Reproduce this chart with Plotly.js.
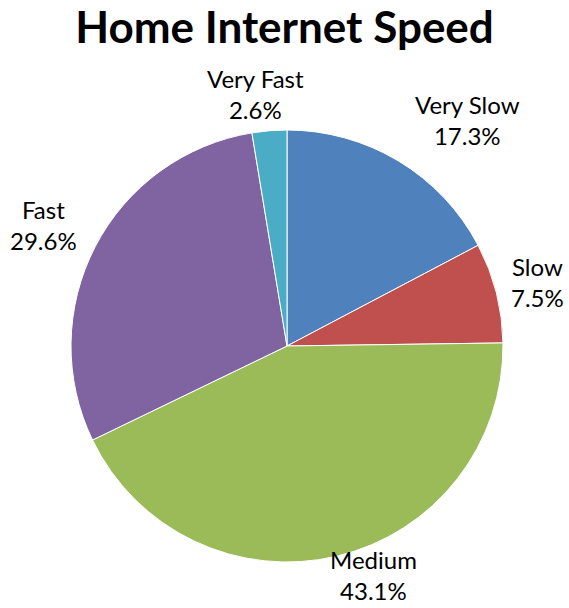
<!DOCTYPE html>
<html>
<head>
<meta charset="utf-8">
<script src="https://cdn.plot.ly/plotly-3.0.1.min.js"></script>
<style>html,body{margin:0;padding:0;background:#fff;}#chart{width:569px;height:608px;}</style>
</head>
<body>
<div id="chart"></div>
<script>
var categories = ["Very Slow", "Slow", "Medium", "Fast", "Very Fast"];
var shares = [17.3, 7.5, 43.1, 29.6, 2.6];
var colors = ["#4F81BD", "#C0504D", "#9BBB59", "#8064A2", "#4BACC6"];
var chartTitle = "Home Internet Speed";

var W = 569, H = 608;
var cx = 287, cy = 346, r = 216;
var FONT = "Lato, 'Open Sans', sans-serif";
var labelSize = 24, lineH = 31;

var trace = {
  type: "pie",
  labels: categories,
  values: shares,
  sort: false,
  direction: "clockwise",
  rotation: 0,
  marker: {colors: colors, line: {color: "#ffffff", width: 1}},
  textinfo: "none",
  hoverinfo: "label+percent",
  domain: {x: [(cx - r) / W, (cx + r) / W], y: [(H - cy - r) / H, (H - cy + r) / H]},
  showlegend: false,
  automargin: false
};

// Data labels placed outside each slice, from the slice mid-angle
var ctx = document.createElement("canvas").getContext("2d");
ctx.font = labelSize + "px Lato";
var total = shares.reduce(function (a, b) { return a + b; }, 0);
var annotations = [];
var cum = 0;
categories.forEach(function (name, i) {
  var mid = (cum + shares[i] / 2) / total * 2 * Math.PI;
  cum += shares[i];
  var pct = shares[i].toFixed(1) + "%";
  var w = Math.max(ctx.measureText(name).width, ctx.measureText(pct).width);
  var h = 2 * lineH;
  var s = Math.sin(mid), c = Math.cos(mid);
  var gap = 4 + 28 * Math.abs(s * c);
  var fx = 1.15 * Math.max(-1, Math.min(1, 3 * s));
  var px = cx + (r + gap) * s + fx * w / 2;
  var py = cy - (r + gap) * c - c * h / 2;
  if (py + h / 2 > H - 2) py = H - 2 - h / 2;
  if (py - h / 2 < 60) py = 60 + h / 2;
  annotations.push({
    xref: "paper", yref: "paper",
    x: px / W, y: 1 - py / H,
    xanchor: "center", yanchor: "middle",
    text: name + "<br>" + pct,
    showarrow: false,
    align: "center",
    font: {family: FONT, size: labelSize, color: "#000"}
  });
});

var layout = {
  width: W, height: H,
  margin: {l: 0, r: 0, t: 0, b: 0},
  paper_bgcolor: "#fff",
  title: {text: "<b>" + chartTitle + "</b>", font: {family: FONT, size: 44, color: "#000"}, x: 0.5, xanchor: "center", y: 0.954, yanchor: "middle"},
  annotations: annotations,
  showlegend: false
};

Plotly.newPlot("chart", [trace], layout, {displayModeBar: false, staticPlot: true});
</script>
</body>
</html>
